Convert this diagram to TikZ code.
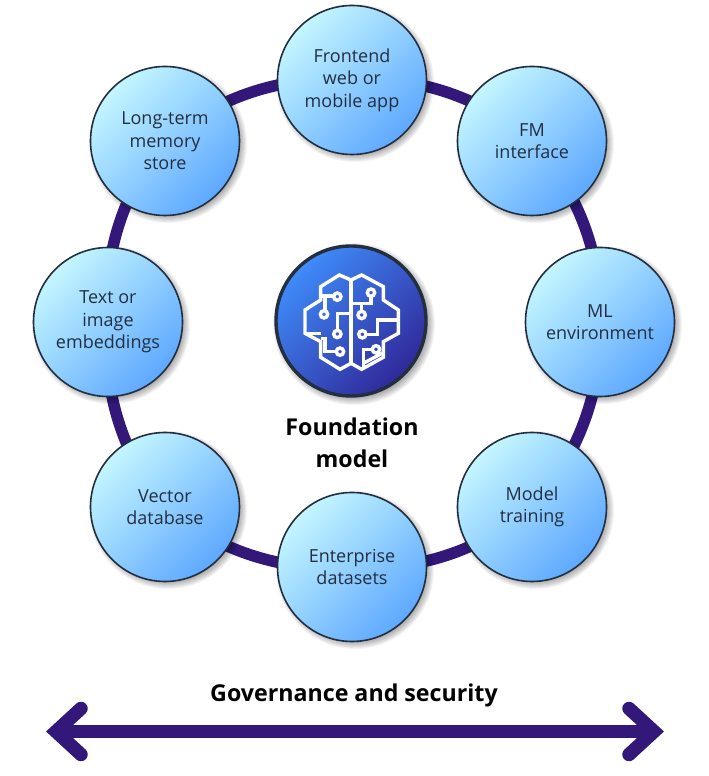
\documentclass[tikz,border=0pt]{standalone}
\usepackage{fontspec}
\setmainfont{Open Sans}
\usetikzlibrary{backgrounds,calc}
\definecolor{ringpurple}{HTML}{33187A}
\definecolor{inkdark}{HTML}{232F3E}
\definecolor{discA}{HTML}{C4F6FF}
\definecolor{discB}{HTML}{5EA8FF}
\definecolor{coreA}{HTML}{3F8CFA}
\definecolor{coreB}{HTML}{30289A}
\tikzset{
  x=1pt,y=1pt,
  disc/.style={circle,draw=inkdark,line width=1.6pt,minimum size=149pt,inner sep=0pt,
    left color=discA,right color=discB,shading angle=45,text=inkdark,align=center,
    font=\fontsize{18}{22.4}\selectfont},
  core/.style={circle,draw=inkdark,line width=3.4pt,minimum size=150pt,inner sep=0pt,
    left color=coreA,right color=coreB,shading angle=45},
  ringline/.style={draw=ringpurple,line width=11.5pt,bend left=22.5,looseness=.885},
  govline/.style={draw=ringpurple,line width=13.5pt,line cap=round,line join=miter},
  title/.style={font=\fontsize{23.2}{29}\selectfont\bfseries,align=center,text=black},
  icon/.style={draw=white,line width=3.4pt,line join=miter,fill=none},
  softshadow/.style={fill=black,fill opacity=.045,draw=none}
}
\newcommand{\shadowdisc}[3]{%
  \foreach \d in {-3,-2,-1,0,1,2,3,4}{\fill[softshadow] (#1+3,#2-3) circle ({#3+\d});}}
\begin{document}
\begin{tikzpicture}
\useasboundingbox (0,0) rectangle (709,776);
\foreach \nm/\px/\py/\txt in {
  front/352/696/{Frontend\\web or\\mobile app},
  fm/532/635/{FM\\interface},
  ml/600/454/{ML\\environment},
  train/532/269/{Model\\training},
  ent/352/209/{Enterprise\\datasets},
  vec/165/269/{Vector\\database},
  text/108/454/{Text or\\image\\embeddings},
  long/165/635/{Long-term\\memory\\store}}{
  \shadowdisc{\px}{\py}{75}
  \node[disc] (\nm) at (\px,\py) {\txt};
}
\shadowdisc{351}{455}{77}
\node[core] (model) at (351,455) {};
\begin{scope}[on background layer]
  \fill[white] (0,0) rectangle (709,776);
  \foreach \a/\b in {front/fm,fm/ml,ml/train,train/ent,ent/vec,vec/text,text/long,long/front}
    \draw[ringline] (\a.center) to (\b.center);
\end{scope}
% brain icon, drawn in the coordinates of the crop
\begin{scope}[shift={(300,506)},x=.3333pt,y=-.3333pt]
  \draw[icon] (153,30) -- (118,15) -- (62,50) -- (62,90) -- (15,120) -- (15,190) -- (62,215) -- (62,262) -- (120,298) -- (153,280)
     -- (185,298) -- (250,262) -- (250,215) -- (295,190) -- (295,120) -- (250,90) -- (250,50) -- (185,15) -- cycle;
  \draw[icon] (153,30) -- (153,280);
  \draw[icon] (62,78) -- (100,78);
  \draw[icon] (112,80) circle (11);
  \draw[icon] (75,78) -- (75,122);
  \draw[icon] (72,133) circle (11);
  \draw[icon] (112,181) -- (112,130) -- (153,130);
  \draw[icon] (112,192) circle (11);
  \draw[icon] (15,190) -- (62,190);
  \draw[icon] (62,205) -- (75,205) -- (75,245) -- (109,245);
  \draw[icon] (120,245) circle (11);
  \draw[icon] (213,68) circle (11);
  \draw[icon] (213,79) -- (213,100) -- (153,100);
  \draw[icon] (185,100) -- (185,124);
  \draw[icon] (185,135) circle (11);
  \draw[icon] (295,150) -- (232,150) -- (232,193) -- (198,193);
  \draw[icon] (187,193) circle (11);
  \draw[icon] (228,238) circle (11);
  \draw[icon] (217,238) -- (190,238) -- (190,296);
  \draw[icon] (190,280) -- (250,248);
\end{scope}
\node[title] (fmtitle) at (352,333) {Foundation\\[3pt]model};
\node[title] (gov) at (354,81) {Governance and security};
\coordinate (gl) at (56,44.5);
\coordinate (gr) at (654,44.5);
\draw[govline,line cap=butt] (gl) -- (gr);
\draw[govline] ($(gl)+(25,23)$) -- (gl) -- ($(gl)+(25,-23)$);
\draw[govline] ($(gr)+(-25,23)$) -- (gr) -- ($(gr)+(-25,-23)$);
\end{tikzpicture}
\end{document}
